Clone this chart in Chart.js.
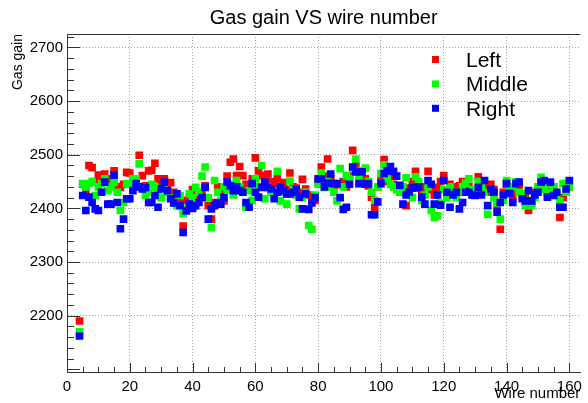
<!DOCTYPE html>
<html lang="en">
<head>
<meta charset="UTF-8" />
<title>Gas gain VS wire number</title>
<script src="https://cdn.jsdelivr.net/npm/chart.js@4"></script>
<style>
  html, body { margin: 0; padding: 0; background: #fff; }
  #wrap { width: 588px; height: 403px; }
</style>
</head>
<body>
<div id="wrap"><canvas id="gainChart" width="588" height="403"></canvas></div>
<script>
// wire numbers (x)
const wires = [
  4,
  5, 6, 7, 8, 9, 10, 11, 12, 13, 14,
  15, 16, 17, 18, 19, 20, 21, 22, 23, 24,
  25, 26, 27, 28, 29, 30, 31, 32, 33, 34,
  35, 36, 37, 38, 39, 40, 41, 42, 43, 44,
  45, 46, 47, 48, 49, 50, 51, 52, 53, 54,
  55, 56, 57, 58, 59, 60, 61, 62, 63, 64,
  65, 66, 67, 68, 69, 70, 71, 72, 73, 74,
  75, 76, 77, 78, 79, 80, 81, 82, 83, 84,
  85, 86, 87, 88, 89, 90, 91, 92, 93, 94,
  95, 96, 97, 98, 99, 100, 101, 102, 103, 104,
  105, 106, 107, 108, 109, 110, 111, 112, 113, 114,
  115, 116, 117, 118, 119, 120, 121, 122, 123, 124,
  125, 126, 127, 128, 129, 130, 131, 132, 133, 134,
  135, 136, 137, 138, 139, 140, 141, 142, 143, 144,
  145, 146, 147, 148, 149, 150, 151, 152, 153, 154,
  155, 156, 157, 158, 159, 160
];

const gainLeft = [
  2190,
  2445, 2434, 2480, 2476, 2450, 2462, 2460, 2464, 2455, 2448,
  2470, 2440, 2439, 2445, 2467, 2466, 2450, 2440, 2499, 2461,
  2442, 2470, 2471, 2484, 2455, 2445, 2455, 2440, 2448, 2430,
  2425, 2411, 2367, 2415, 2420, 2435, 2424, 2430, 2427, 2442,
  2405, 2380, 2411, 2440, 2430, 2414, 2460, 2486, 2492, 2461,
  2478, 2461, 2445, 2440, 2455, 2494, 2470, 2461, 2461, 2464,
  2450, 2445, 2455, 2440, 2448, 2435, 2466, 2440, 2438, 2430,
  2454, 2436, 2425, 2420, 2415, 2450, 2477, 2460, 2492, 2455,
  2439, 2445, 2444, 2450, 2440, 2460, 2508, 2480, 2470, 2464,
  2455, 2442, 2421, 2402, 2440, 2455, 2491, 2450, 2460, 2445,
  2440, 2430, 2435, 2405, 2438, 2450, 2469, 2445, 2430, 2440,
  2469, 2435, 2425, 2439, 2450, 2461, 2430, 2445, 2440, 2435,
  2442, 2450, 2445, 2440, 2430, 2425, 2459, 2445, 2440, 2430,
  2445, 2435, 2404, 2361, 2430, 2445, 2435, 2424, 2430, 2440,
  2425, 2420, 2396, 2410, 2430, 2440, 2445, 2440, 2430, 2435,
  2440, 2425, 2383, 2420, 2430, 2440
];

const gainMiddle = [
  2170,
  2446, 2440, 2446, 2450, 2424, 2440, 2446, 2455, 2433, 2440,
  2449, 2430, 2396, 2411, 2446, 2445, 2455, 2455, 2483, 2440,
  2424, 2430, 2445, 2439, 2430, 2420, 2440, 2430, 2420, 2410,
  2405, 2424, 2390, 2400, 2427, 2420, 2439, 2430, 2460, 2477,
  2420, 2364, 2452, 2430, 2415, 2440, 2435, 2445, 2425, 2452,
  2440, 2430, 2402, 2433, 2415, 2455, 2440, 2480, 2418, 2440,
  2430, 2425, 2469, 2414, 2430, 2408, 2451, 2435, 2425, 2399,
  2420, 2430, 2368, 2361, 2425, 2445, 2466, 2439, 2450, 2440,
  2430, 2414, 2474, 2440, 2461, 2455, 2475, 2492, 2458, 2470,
  2475, 2450, 2430, 2415, 2440, 2465, 2481, 2455, 2445, 2440,
  2435, 2430, 2440, 2457, 2425, 2420, 2459, 2450, 2415, 2425,
  2440, 2396, 2383, 2386, 2410, 2435, 2420, 2440, 2430, 2420,
  2430, 2440, 2447, 2455, 2435, 2425, 2450, 2440, 2430, 2389,
  2436, 2420, 2410, 2380, 2415, 2452, 2435, 2440, 2449, 2430,
  2427, 2405, 2415, 2405, 2420, 2440, 2458, 2435, 2445, 2430,
  2440, 2425, 2414, 2446, 2430, 2440
];

const gainRight = [
  2162,
  2424, 2396, 2421, 2411, 2399, 2396, 2430, 2449, 2408, 2408,
  2462, 2411, 2362, 2380, 2418, 2418, 2433, 2446, 2440, 2436,
  2439, 2411, 2411, 2424, 2402, 2436, 2449, 2433, 2418, 2410,
  2427, 2405, 2355, 2395, 2408, 2400, 2405, 2411, 2420, 2439,
  2380, 2399, 2405, 2410, 2408, 2420, 2449, 2442, 2433, 2440,
  2433, 2430, 2411, 2402, 2446, 2430, 2421, 2439, 2449, 2439,
  2436, 2418, 2430, 2439, 2433, 2427, 2427, 2430, 2435, 2421,
  2399, 2427, 2398, 2410, 2420, 2455, 2455, 2440, 2447, 2464,
  2446, 2446, 2420, 2398, 2402, 2445, 2477, 2468, 2446, 2468,
  2445, 2446, 2388, 2388, 2412, 2446, 2465, 2470, 2478, 2469,
  2460, 2443, 2408, 2425, 2430, 2438, 2438, 2440, 2421, 2408,
  2452, 2445, 2408, 2425, 2406, 2452, 2430, 2402, 2425, 2430,
  2399, 2411, 2430, 2430, 2425, 2424, 2439, 2425, 2452, 2405,
  2436, 2430, 2393, 2411, 2425, 2446, 2428, 2411, 2446, 2449,
  2418, 2414, 2433, 2414, 2425, 2430, 2449, 2452, 2421, 2449,
  2424, 2430, 2402, 2402, 2436, 2452
];

const seriesLabels = ['Left', 'Middle', 'Right'];
const xTicks = [0, 20, 40, 60, 80, 100, 120, 140, 160];
const yTicks = [2200, 2300, 2400, 2500, 2600, 2700];

const FONT = "'Liberation Sans', Arial, Helvetica, sans-serif";

function toPoints(values) {
  return values.map((v, i) => ({ x: wires[i], y: v }));
}

// ROOT-like frame: ticks inside the frame, top border, and the legend box
const rootFrame = {
  id: 'rootFrame',
  afterDatasetsDraw(chart) {
    const { ctx, chartArea: a, scales: { x, y } } = chart;
    ctx.save();
    ctx.strokeStyle = '#333';
    ctx.lineWidth = 1;
    ctx.beginPath();
    ctx.moveTo(a.left, Math.round(a.top) + 0.5);
    ctx.lineTo(a.right, Math.round(a.top) + 0.5);
    for (let v = Math.ceil(y.min / 20) * 20; v <= y.max; v += 20) {
      const py = Math.round(y.getPixelForValue(v)) + 0.5;
      const len = v % 100 === 0 ? 13 : 7;
      ctx.moveTo(a.left, py);
      ctx.lineTo(a.left + len, py);
    }
    for (let v = 0; v <= x.max; v += 5) {
      const px = Math.round(x.getPixelForValue(v)) + 0.5;
      const len = v % 20 === 0 ? 9 : 5;
      ctx.moveTo(px, a.bottom);
      ctx.lineTo(px, a.bottom - len);
    }
    ctx.stroke();

    // legend
    ctx.font = '21px ' + FONT;
    ctx.textBaseline = 'alphabetic';
    ctx.textAlign = 'left';
    chart.data.datasets.forEach((ds, i) => {
      const cy = 59.5 + i * 24.4;
      ctx.fillStyle = ds.backgroundColor;
      ctx.fillRect(432, cy - 3.5, 7, 7);
      ctx.fillStyle = '#000';
      ctx.fillText(ds.label, 466, cy + 7.5);
    });
    ctx.restore();
  }
};

const axisFont = { family: FONT, size: 15 };

new Chart(document.getElementById('gainChart'), {
  type: 'scatter',
  data: {
    datasets: [
      { label: seriesLabels[0], data: toPoints(gainLeft), backgroundColor: '#ff0000', order: 3 },
      { label: seriesLabels[1], data: toPoints(gainMiddle), backgroundColor: '#00ff00', order: 2 },
      { label: seriesLabels[2], data: toPoints(gainRight), backgroundColor: '#0000ff', order: 1 }
    ]
  },
  options: {
    responsive: false,
    animation: false,
    layout: { padding: 0 },
    elements: {
      point: { pointStyle: 'rect', radius: 5.4, borderWidth: 0, hoverRadius: 5.4 }
    },
    scales: {
      x: {
        type: 'linear',
        min: 0,
        max: 163.5,
        afterBuildTicks: s => { s.ticks = xTicks.map(v => ({ value: v })); },
        afterFit: s => { s.height = 31; },
        grid: { color: '#a0a0a0', lineWidth: 1, drawTicks: false },
        border: { display: true, color: '#333', width: 1, dash: [1, 2] },
        ticks: { color: '#000', font: axisFont, padding: 6, maxRotation: 0, autoSkip: false,
                 callback: v => String(v) },
        title: {
          display: true, text: 'Wire number', align: 'end', color: '#000',
          font: { family: FONT, size: 15 }, padding: { top: 0, bottom: 0 }
        }
      },
      y: {
        type: 'linear',
        min: 2095,
        max: 2725,
        afterBuildTicks: s => { s.ticks = yTicks.map(v => ({ value: v })); },
        afterFit: s => { s.width = 67; },
        grid: { color: '#a0a0a0', lineWidth: 1, drawTicks: false },
        border: { display: true, color: '#333', width: 1, dash: [1, 2] },
        ticks: { color: '#000', font: axisFont, padding: 4, autoSkip: false,
                 callback: v => String(v) },
        title: {
          display: true, text: 'Gas gain', align: 'end', color: '#000',
          font: { family: FONT, size: 14 }, padding: { top: 10, bottom: 0 }
        }
      }
    },
    plugins: {
      legend: { display: false },
      tooltip: { enabled: false },
      title: {
        display: true,
        text: 'Gas gain VS wire number',
        fullSize: false,
        color: '#000',
        font: { family: FONT, size: 20, weight: 'normal' },
        padding: { top: 6, bottom: 4 }
      }
    }
  },
  plugins: [rootFrame]
});
</script>
</body>
</html>
